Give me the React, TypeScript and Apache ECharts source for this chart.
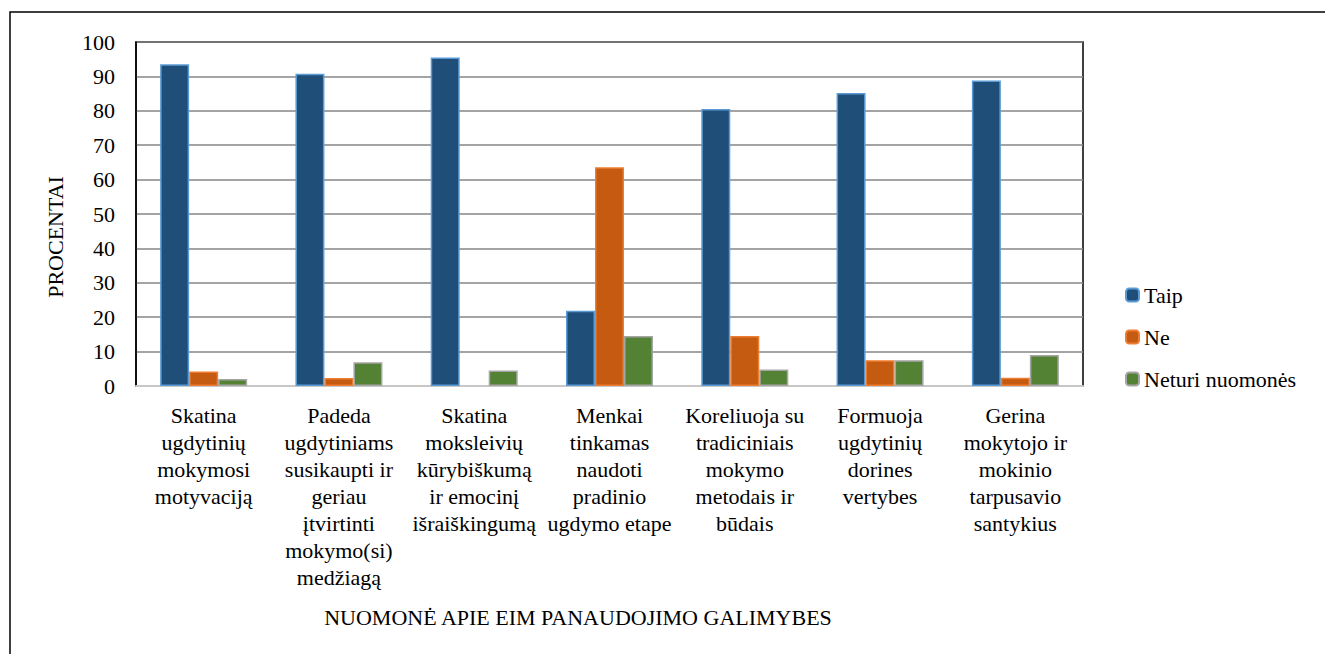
import React, { useEffect, useRef } from "react";
import * as echarts from "echarts";

const categories: string[] = [
  "Skatina\nugdytinių\nmokymosi\nmotyvaciją",
  "Padeda\nugdytiniams\nsusikaupti ir\ngeriau\nįtvirtinti\nmokymo(si)\nmedžiagą",
  "Skatina\nmoksleivių\nkūrybiškumą\nir emocinį\nišraiškingumą",
  "Menkai\ntinkamas\nnaudoti\npradinio\nugdymo etape",
  "Koreliuoja su\ntradiciniais\nmokymo\nmetodais ir\nbūdais",
  "Formuoja\nugdytinių\ndorines\nvertybes",
  "Gerina\nmokytojo ir\nmokinio\ntarpusavio\nsantykius",
];

const taip: number[] = [93.5, 90.8, 95.5, 21.9, 80.5, 85.2, 88.8];
const ne: number[] = [4.2, 2.3, 0, 63.6, 14.5, 7.5, 2.4];
const neturi: number[] = [2.0, 6.9, 4.5, 14.5, 4.8, 7.5, 9.0];

const seriesNames = ["Taip", "Ne", "Neturi nuomonės"];
const yAxisTitle = "PROCENTAI";
const xAxisTitle = "NUOMONĖ APIE EIM PANAUDOJIMO GALIMYBES";

const FONT = "Liberation Serif";

export default function App() {
  const ref = useRef<HTMLDivElement>(null);

  useEffect(() => {
    if (!ref.current) return;
    const chart = echarts.init(ref.current, undefined, { renderer: "svg" });
    const mk = (name: string, data: number[], fill: string, border: string) => ({
      name,
      type: "bar",
      // zero values are not drawn as bars in the reference
      data: data.map((v) => (v === 0 ? "-" : v)),
      barWidth: 29,
      barGap: "0%",
      itemStyle: { color: fill, borderColor: border, borderWidth: 1.5 },
    });
    chart.setOption({
      animation: false,
      backgroundColor: "#ffffff",
      grid: {
        left: 136,
        top: 42,
        right: 242,
        bottom: 268,
        show: true,
        borderColor: "#000",
        borderWidth: 1.5,
        backgroundColor: "transparent",
      },
      legend: {
        orient: "vertical",
        left: 1125,
        top: 284,
        padding: 0,
        itemWidth: 13,
        itemHeight: 13,
        itemGap: 20,
        itemTextGap: 5,
        textStyle: { fontFamily: FONT, fontSize: 22, color: "#000" },
        data: seriesNames,
      },
      xAxis: {
        type: "category",
        data: categories,
        axisLine: { show: true, lineStyle: { color: "#c8c8c8", width: 2 } },
        axisTick: { show: false },
        axisLabel: {
          interval: 0,
          fontFamily: FONT,
          fontSize: 22,
          lineHeight: 27,
          color: "#000",
          margin: 16,
        },
      },
      yAxis: {
        type: "value",
        min: 0,
        max: 100,
        interval: 10,
        axisLine: { show: true, lineStyle: { color: "#000", width: 1.5 } },
        axisTick: { show: false },
        axisLabel: { fontFamily: FONT, fontSize: 22, color: "#000", margin: 21 },
        splitLine: { show: true, lineStyle: { color: "#868686", width: 1.5 } },
      },
      graphic: [
        {
          type: "rect",
          shape: { x: 10, y: 12, width: 1400, height: 700 },
          style: { fill: "none", stroke: "#000", lineWidth: 1.5 },
          silent: true,
        },
        {
          type: "text",
          x: 55,
          y: 237,
          rotation: Math.PI / 2,
          style: {
            text: yAxisTitle,
            fontFamily: FONT,
            fontSize: 22,
            fill: "#000",
            align: "center",
            verticalAlign: "middle",
          },
        },
        {
          type: "text",
          x: 578,
          y: 617,
          style: {
            text: xAxisTitle,
            fontFamily: FONT,
            fontSize: 22,
            fill: "#000",
            align: "center",
            verticalAlign: "middle",
          },
        },
      ],
      series: [
        mk(seriesNames[0], taip, "#1f4e79", "#5b9bd5"),
        mk(seriesNames[1], ne, "#c55a11", "#ed7d31"),
        mk(seriesNames[2], neturi, "#548235", "#a5a5a5"),
      ],
    });
    return () => chart.dispose();
  }, []);

  return (
    <div
      ref={ref}
      style={{ position: "fixed", left: 0, top: 0, width: 1325, height: 654, background: "#fff" }}
    />
  );
}
